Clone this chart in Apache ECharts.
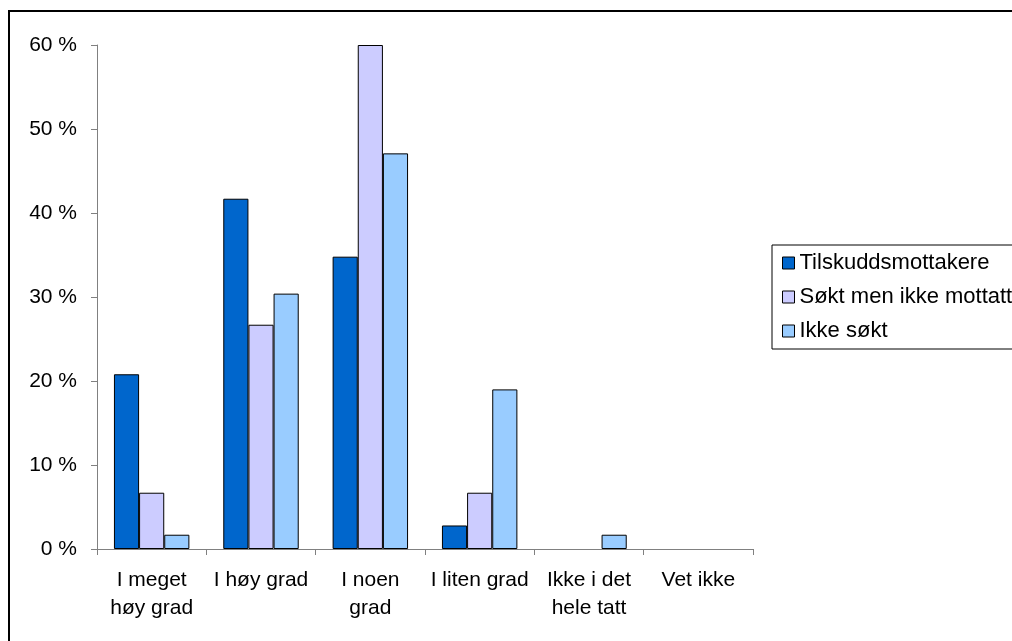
<!DOCTYPE html>
<html>
<head>
<meta charset="utf-8">
<script src="https://cdn.jsdelivr.net/npm/echarts@6/dist/echarts.min.js"></script>
<style>
  html, body { margin: 0; padding: 0; background: #fff; }
  #chart { width: 1012px; height: 641px; }
</style>
</head>
<body>
<div id="chart"></div>
<script>
  // categories and values (percent)
  const categories = ['I meget\nhøy grad', 'I høy grad', 'I noen\ngrad', 'I liten grad', 'Ikke i det\nhele tatt', 'Vet ikke'];
  const tilskudd = [20.8, 41.7, 34.8, 2.8, 0, 0];
  const soktIkkeMottatt = [6.7, 26.7, 60.0, 6.7, 0, 0];
  const ikkeSokt = [1.7, 30.4, 47.1, 19.0, 1.7, 0];
  const seriesNames = ['Tilskuddsmottakere', 'Søkt men ikke mottatt', 'Ikke søkt'];

  const font = 'Liberation Sans, Arial, sans-serif';
  const myChart = echarts.init(document.getElementById('chart'));

  // zero bars get no outline (reference draws nothing there)
  const bar = (name, data, color) => ({
    name: name,
    type: 'bar',
    data: data.map(v => v === 0 ? { value: v, itemStyle: { borderWidth: 0 } } : v),
    barGap: '0%',
    barCategoryGap: '31%',
    itemStyle: { color: color, borderColor: '#000', borderWidth: 1 },
    emphasis: { disabled: true }
  });

  let option = {
    animation: false,
    backgroundColor: '#fff',
    grid: { left: 97, top: 45, width: 656, height: 504 },
    legend: {
      orient: 'vertical',
      left: 772,
      top: 245,
      padding: [7, 80, 7, 10],
      borderColor: '#000',
      borderWidth: 1,
      itemWidth: 12,
      itemHeight: 12,
      itemGap: 12,
      itemTextGap: 4,
      icon: 'rect',
      selectedMode: false,
      itemStyle: { borderColor: '#000', borderWidth: 1 },
      textStyle: { fontFamily: font, fontSize: 22, color: '#000', lineHeight: 22 },
      data: seriesNames
    },
    xAxis: {
      type: 'category',
      data: categories,
      axisLine: { lineStyle: { color: '#808080' } },
      axisTick: { show: true, length: 6, lineStyle: { color: '#808080' } },
      axisLabel: { fontFamily: font, fontSize: 21, color: '#000', margin: 17, lineHeight: 28, interval: 0 }
    },
    yAxis: {
      type: 'value',
      min: 0,
      max: 60,
      interval: 10,
      axisLine: { show: true, lineStyle: { color: '#808080' } },
      axisTick: { show: true, length: 6, lineStyle: { color: '#808080' } },
      splitLine: { show: false },
      axisLabel: { fontFamily: font, fontSize: 21, color: '#000', margin: 20, formatter: '{value} %' }
    },
    graphic: [{
      type: 'rect',
      shape: { x: 9, y: 11, width: 1100, height: 700 },
      style: { fill: 'none', stroke: '#000', lineWidth: 2 },
      silent: true
    }],
    series: [
      bar(seriesNames[0], tilskudd, '#0066CC'),
      bar(seriesNames[1], soktIkkeMottatt, '#CCCCFF'),
      bar(seriesNames[2], ikkeSokt, '#99CCFF')
    ]
  };
  myChart.setOption(option, true);
</script>
</body>
</html>
